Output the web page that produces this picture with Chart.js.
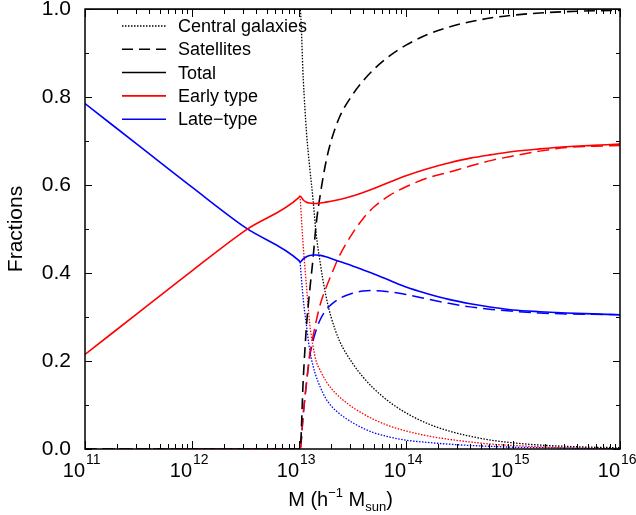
<!DOCTYPE html>
<html>
<head>
<meta charset="utf-8">
<script src="https://cdn.jsdelivr.net/npm/chart.js@4/dist/chart.umd.min.js"></script>
<style>
html, body { margin: 0; padding: 0; background: #fff; }
</style>
</head>
<body>
<canvas id="pic" width="636" height="515"></canvas>
<script>
// halo mass, log10(M / h^-1 Msun)
var logM = [11, 11.5, 12, 12.5, 13, 13.01, 13.04, 13.07, 13.1, 13.13, 13.16, 13.2, 13.25, 13.3, 13.38,
            13.5, 13.6, 13.7, 13.85, 14, 14.2, 14.4, 14.6, 14.8, 15, 15.25, 15.5, 15.75, 16];

var central    = [1, 1, 1, 1, 1, 1, 0.84, 0.72, 0.64, 0.57, 0.49, 0.42, 0.35, 0.30, 0.245,
                  0.195, 0.163, 0.137, 0.106, 0.082, 0.058, 0.041, 0.029, 0.02, 0.014, 0.009, 0.006, 0.004, 0.003];
var satellites = [0, 0, 0, 0, 0, 0, 0.16, 0.28, 0.36, 0.43, 0.51, 0.58, 0.65, 0.70, 0.755,
                  0.805, 0.837, 0.863, 0.894, 0.918, 0.942, 0.959, 0.971, 0.98, 0.986, 0.991, 0.994, 0.996, 0.997];
var total      = [1, 1, 1, 1, 1, 1, 1, 1, 1, 1, 1, 1, 1, 1, 1,
                  1, 1, 1, 1, 1, 1, 1, 1, 1, 1, 1, 1, 1, 1];

var early      = [0.215, 0.31, 0.405, 0.497, 0.572, 0.575, 0.566, 0.561, 0.559, 0.558, 0.558, 0.559, 0.561, 0.563, 0.567,
                  0.575, 0.583, 0.592, 0.607, 0.621, 0.637, 0.65, 0.661, 0.669, 0.676, 0.682, 0.687, 0.690, 0.693];
var earlyCen   = [null, null, null, null, null, 0.575, 0.46, 0.37, 0.285, 0.235, 0.20, 0.178, 0.155, 0.138, 0.118,
                  0.095, 0.08, 0.067, 0.052, 0.041, 0.03, 0.022, 0.016, 0.011, 0.008, 0.005, 0.003, 0.002, 0.001];
var earlySat   = [0, 0, 0, 0, 0, 0, 0.08, 0.15, 0.215, 0.255, 0.29, 0.33, 0.365, 0.395, 0.44,
                  0.49, 0.524, 0.55, 0.577, 0.596, 0.616, 0.629, 0.643, 0.656, 0.666, 0.677, 0.685, 0.688, 0.690];

var late       = [0.785, 0.69, 0.595, 0.503, 0.428, 0.425, 0.432, 0.437, 0.44, 0.441, 0.441, 0.44, 0.437, 0.433, 0.426,
                  0.416, 0.407, 0.398, 0.383, 0.368, 0.353, 0.34, 0.33, 0.322, 0.316, 0.312, 0.309, 0.307, 0.305];
var lateCen    = [null, null, null, null, null, 0.425, 0.34, 0.28, 0.225, 0.19, 0.165, 0.14, 0.115, 0.098, 0.08,
                  0.06, 0.047, 0.037, 0.027, 0.02, 0.015, 0.011, 0.008, 0.006, 0.004, 0.003, 0.002, 0.001, 0.001];
var lateSat    = [0, 0, 0, 0, 0, 0, 0.08, 0.15, 0.21, 0.245, 0.27, 0.295, 0.315, 0.328, 0.342,
                  0.354, 0.359, 0.36, 0.357, 0.351, 0.341, 0.331, 0.323, 0.317, 0.313, 0.309, 0.307, 0.306, 0.305];

var xExps = [11, 12, 13, 14, 15, 16];
var yTicks = [0, 0.1, 0.2, 0.3, 0.4, 0.5, 0.6, 0.7, 0.8, 0.9, 1.0];
var keyLabels = ['Central galaxies', 'Satellites', 'Total', 'Early type', 'Late\u2212type'];

var DOT = [1.5, 1.5], DASH = [11, 6];

function pts(arr) {
    return arr.map(function (v, i) { return { x: Math.pow(10, logM[i]), y: v }; });
}
function line(label, arr, color, dash, width) {
    return {
        label: label, data: pts(arr), borderColor: color, backgroundColor: color,
        borderDash: dash, borderWidth: width, pointRadius: 0, fill: false,
        cubicInterpolationMode: 'monotone'
    };
}

var axesPlugin = {
    id: 'axesPlugin',
    afterDatasetsDraw: function (chart) {
        var c = chart.ctx, a = chart.chartArea;
        var xs = chart.scales.x, ys = chart.scales.y;
        c.save();
        c.strokeStyle = '#000';
        c.lineWidth = 1.5;
        c.strokeRect(a.left, a.top, a.right - a.left, a.bottom - a.top);

        // x ticks, inward on bottom and top
        c.lineWidth = 1;
        c.beginPath();
        xExps.forEach(function (e) {
            for (var m = 1; m <= 9; m++) {
                var v = m * Math.pow(10, e);
                if (v > 1e16) break;
                var px = Math.round(xs.getPixelForValue(v)) + 0.5;
                var len = m === 1 ? 8 : 5;
                c.moveTo(px, a.bottom); c.lineTo(px, a.bottom - len);
                c.moveTo(px, a.top); c.lineTo(px, a.top + len);
            }
        });
        yTicks.forEach(function (v, i) {
            var py = Math.round(ys.getPixelForValue(v)) + 0.5;
            var len = i % 2 === 0 ? 7 : 4;
            c.moveTo(a.left, py); c.lineTo(a.left + len, py);
            c.moveTo(a.right, py); c.lineTo(a.right - len, py);
        });
        c.stroke();

        // x tick labels 10^n
        c.fillStyle = '#000';
        c.textBaseline = 'alphabetic';
        xExps.forEach(function (e) {
            var px = xs.getPixelForValue(Math.pow(10, e));
            c.font = '20px "Liberation Sans", Arial, sans-serif';
            c.textAlign = 'right';
            c.fillText('10', px, 477);
            c.font = '14px "Liberation Sans", Arial, sans-serif';
            c.textAlign = 'left';
            c.fillText(String(e), px + 1, 464);
        });

        // x axis title: M (h^-1 M_sun)
        var big = '20px "Liberation Sans", Arial, sans-serif';
        var small = '13px "Liberation Sans", Arial, sans-serif';
        var parts = [
            { t: 'M (h', f: big, dy: 0 },
            { t: '\u22121', f: small, dy: -9 },
            { t: ' M', f: big, dy: 0 },
            { t: 'sun', f: small, dy: 5 },
            { t: ')', f: big, dy: 0 }
        ];
        var w = 0;
        parts.forEach(function (p) { c.font = p.f; p.w = c.measureText(p.t).width; w += p.w; });
        var x0 = (a.left + a.right) / 2 - 12 - w / 2;
        c.textAlign = 'left';
        parts.forEach(function (p) {
            c.font = p.f;
            c.fillText(p.t, x0, 506 + p.dy);
            x0 += p.w;
        });

        // key
        c.font = '18px "Liberation Sans", Arial, sans-serif';
        c.textBaseline = 'middle';
        keyLabels.forEach(function (lab, i) {
            var ds = chart.data.datasets.find(function (d) { return d.label === lab; });
            var y = a.top + 17 + i * 23.3;
            c.save();
            c.strokeStyle = ds.borderColor;
            c.lineWidth = ds.borderWidth;
            c.setLineDash(ds.borderDash || []);
            c.beginPath();
            c.moveTo(a.left + 37, y); c.lineTo(a.left + 81, y);
            c.stroke();
            c.restore();
            c.fillText(lab, a.left + 93, y + 1);
        });
        c.restore();
    }
};

var chart = new Chart(document.getElementById('pic').getContext('2d'), {
    type: 'line',
    data: {
        datasets: [
            line('Early type', early, '#ff0000', [], 1.6),
            line('Late\u2212type', late, '#0000ff', [], 1.6),
            line('Total', total, '#000000', [], 1.5),
            line('Satellites', satellites, '#000000', DASH, 1.6),
            line('Early satellites', earlySat, '#ff0000', [12, 6], 1.5),
            line('Late satellites', lateSat, '#0000ff', [12, 6], 1.5),
            line('Central galaxies', central, '#000000', DOT, 1.3),
            line('Early centrals', earlyCen, '#ff0000', DOT, 1.3),
            line('Late centrals', lateCen, '#0000ff', DOT, 1.3)
        ]
    },
    options: {
        responsive: false,
        animation: false,
        layout: { autoPadding: false, padding: { left: 0, right: 16, top: 9, bottom: 0 } },
        plugins: { legend: { display: false }, tooltip: { enabled: false } },
        scales: {
            x: {
                type: 'logarithmic', min: 1e11, max: 1e16,
                grid: { display: false, drawTicks: false }, border: { display: false },
                ticks: { display: false },
                afterFit: function (s) { s.height = 66; s.paddingLeft = 0; s.paddingRight = 0; }
            },
            y: {
                min: 0, max: 1,
                grid: { display: false, drawTicks: false }, border: { display: false },
                ticks: {
                    stepSize: 0.2, padding: 14, color: '#000',
                    font: { family: '"Liberation Sans", Arial, sans-serif', size: 21 },
                    callback: function (v) { return v.toFixed(1); }
                },
                title: {
                    display: true, text: 'Fractions', color: '#000',
                    font: { family: '"Liberation Sans", Arial, sans-serif', size: 21 },
                    padding: { top: 4, bottom: 0 }
                },
                afterFit: function (s) { s.width = 85; s.paddingTop = 0; s.paddingBottom = 0; }
            }
        }
    },
    plugins: [axesPlugin]
});
</script>
</body>
</html>
